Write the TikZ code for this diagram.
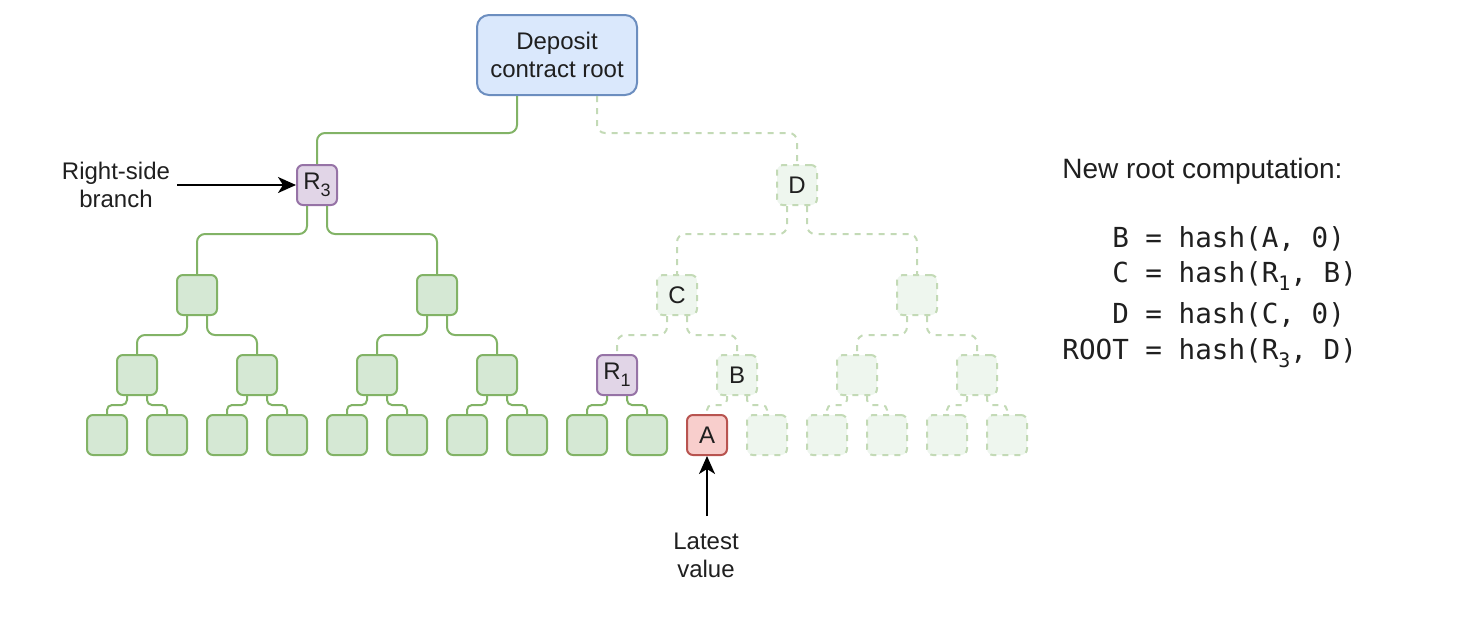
\documentclass[tikz,border=0pt]{standalone}
\usepackage{fontspec}
\setmainfont{Liberation Sans}
\setmonofont{DejaVu Sans Mono}
\usetikzlibrary{arrows.meta}

\definecolor{gfill}{HTML}{D5E8D4}
\definecolor{gline}{HTML}{82B366}
\definecolor{ffill}{HTML}{EEF6EE}
\definecolor{fline}{HTML}{C3DAB6}
\definecolor{pfill}{HTML}{E1D5E7}
\definecolor{pline}{HTML}{9673A6}
\definecolor{rfill}{HTML}{F8CECC}
\definecolor{rline}{HTML}{B85450}
\definecolor{bfill}{HTML}{DAE8FC}
\definecolor{bline}{HTML}{6C8EBF}
\definecolor{txt}{HTML}{1F1F1F}

\newcommand\lowsub[2][9]{\raisebox{-0.3em}{\fontsize{#1}{#1}\selectfont #2}}
% tree edge: style, parent, child, exit offset, y of horizontal run
\newcommand\tedge[5]{\draw[#1] ([xshift=#4]#2.south) -- ([xshift=#4]#2.south |- 0,#5) -- (#3.north |- 0,#5) -- (#3.north);}

\begin{document}
\begin{tikzpicture}[x=0.5pt, y=-0.5pt,
  box/.style={draw, line width=1pt, rounded corners=3pt, minimum width=20pt, minimum height=20pt, inner sep=0pt, font=\fontsize{12}{14}\selectfont, text=txt},
  solidbox/.style={box, fill=gfill, draw=gline},
  fadebox/.style={box, fill=ffill, draw=fline, dash pattern=on 3pt off 3pt},
  purplebox/.style={box, fill=pfill, draw=pline},
  redbox/.style={box, fill=rfill, draw=rline},
  rootbox/.style={box, fill=bfill, draw=bline, rounded corners=6pt, minimum width=80pt, minimum height=40pt, align=center},
  link/.style={line width=1pt, draw=gline, rounded corners=4pt},
  fadelink/.style={line width=1pt, draw=fline, dash pattern=on 3pt off 3pt, rounded corners=4pt},
  slink/.style={link, rounded corners=2.5pt},
  sfadelink/.style={fadelink, rounded corners=2.5pt},
  note/.style={font=\fontsize{12}{14}\selectfont, align=center, text=txt, inner sep=0pt},
  pointer/.style={line width=1pt, draw=black, -{Stealth[length=9pt,width=8pt,inset=2.5pt]}},
  code/.style={font=\fontsize{13.8}{17}\ttfamily, text=txt, inner sep=0pt, anchor=base west}
]
\useasboundingbox (0,0) rectangle (1460,616);

% root
\node[rootbox] (root) at (557,55) {Deposit\\contract root};

% level 1
\node[purplebox] (R3) at (317,185) {R\lowsub{3}};
\node[fadebox] (D) at (797,185) {D};

% level 2
\node[solidbox] (a1) at (197,295) {};
\node[solidbox] (a2) at (437,295) {};
\node[fadebox] (C) at (677,295) {C};
\node[fadebox] (a4) at (917,295) {};

% level 3
\node[solidbox] (b1) at (137,375) {};
\node[solidbox] (b2) at (257,375) {};
\node[solidbox] (b3) at (377,375) {};
\node[solidbox] (b4) at (497,375) {};
\node[purplebox] (R1) at (617,375) {R\lowsub{1}};
\node[fadebox] (B) at (737,375) {B};
\node[fadebox] (b7) at (857,375) {};
\node[fadebox] (b8) at (977,375) {};

% level 4
\node[solidbox] (c1) at (107,435) {};
\node[solidbox] (c2) at (167,435) {};
\node[solidbox] (c3) at (227,435) {};
\node[solidbox] (c4) at (287,435) {};
\node[solidbox] (c5) at (347,435) {};
\node[solidbox] (c6) at (407,435) {};
\node[solidbox] (c7) at (467,435) {};
\node[solidbox] (c8) at (527,435) {};
\node[solidbox] (c9) at (587,435) {};
\node[solidbox] (c10) at (647,435) {};
\node[redbox] (A) at (707,435) {A};
\node[fadebox] (c12) at (767,435) {};
\node[fadebox] (c13) at (827,435) {};
\node[fadebox] (c14) at (887,435) {};
\node[fadebox] (c15) at (947,435) {};
\node[fadebox] (c16) at (1007,435) {};

% edges root -> level 1
\tedge{link}{root}{R3}{-20pt}{133}
\tedge{fadelink}{root}{D}{20pt}{133}

% level 1 -> level 2
\tedge{link}{R3}{a1}{-5pt}{234}
\tedge{link}{R3}{a2}{5pt}{234}
\tedge{fadelink}{D}{C}{-5pt}{234}
\tedge{fadelink}{D}{a4}{5pt}{234}

% level 2 -> level 3
\tedge{link}{a1}{b1}{-5pt}{335}
\tedge{link}{a1}{b2}{5pt}{335}
\tedge{link}{a2}{b3}{-5pt}{335}
\tedge{link}{a2}{b4}{5pt}{335}
\tedge{fadelink}{C}{R1}{-5pt}{335}
\tedge{fadelink}{C}{B}{5pt}{335}
\tedge{fadelink}{a4}{b7}{-5pt}{335}
\tedge{fadelink}{a4}{b8}{5pt}{335}

% level 3 -> level 4
\tedge{slink}{b1}{c1}{-5pt}{405}
\tedge{slink}{b1}{c2}{5pt}{405}
\tedge{slink}{b2}{c3}{-5pt}{405}
\tedge{slink}{b2}{c4}{5pt}{405}
\tedge{slink}{b3}{c5}{-5pt}{405}
\tedge{slink}{b3}{c6}{5pt}{405}
\tedge{slink}{b4}{c7}{-5pt}{405}
\tedge{slink}{b4}{c8}{5pt}{405}
\tedge{slink}{R1}{c9}{-5pt}{405}
\tedge{slink}{R1}{c10}{5pt}{405}
\tedge{sfadelink}{B}{A}{-5pt}{405}
\tedge{sfadelink}{B}{c12}{5pt}{405}
\tedge{sfadelink}{b7}{c13}{-5pt}{405}
\tedge{sfadelink}{b7}{c14}{5pt}{405}
\tedge{sfadelink}{b8}{c15}{-5pt}{405}
\tedge{sfadelink}{b8}{c16}{5pt}{405}

% annotations
\node[note] (rsb) at (116,185) {Right-side\\branch};
\coordinate (rsbtail) at (177,185);
\draw[pointer] (rsbtail) -- (R3.west);

\node[note] (lv) at (706,555) {Latest\\value};
\coordinate (lvtail) at (707,516);
\draw[pointer] (lvtail) -- (A.south);

% computation text
\node[font=\fontsize{14}{17}\selectfont, text=txt, inner sep=0pt, anchor=base west] (title) at (1062,178) {New root computation:};
\node[code] (l1) at (1062,247) {\phantom{ROO}B = hash(A, 0)};
\node[code] (l2) at (1062,282) {\phantom{ROO}C = hash(R\lowsub[10]{1}, B)};
\node[code] (l3) at (1062,323) {\phantom{ROO}D = hash(C, 0)};
\node[code] (l4) at (1062,359) {ROOT = hash(R\lowsub[10]{3}, D)};
\end{tikzpicture}
\end{document}
